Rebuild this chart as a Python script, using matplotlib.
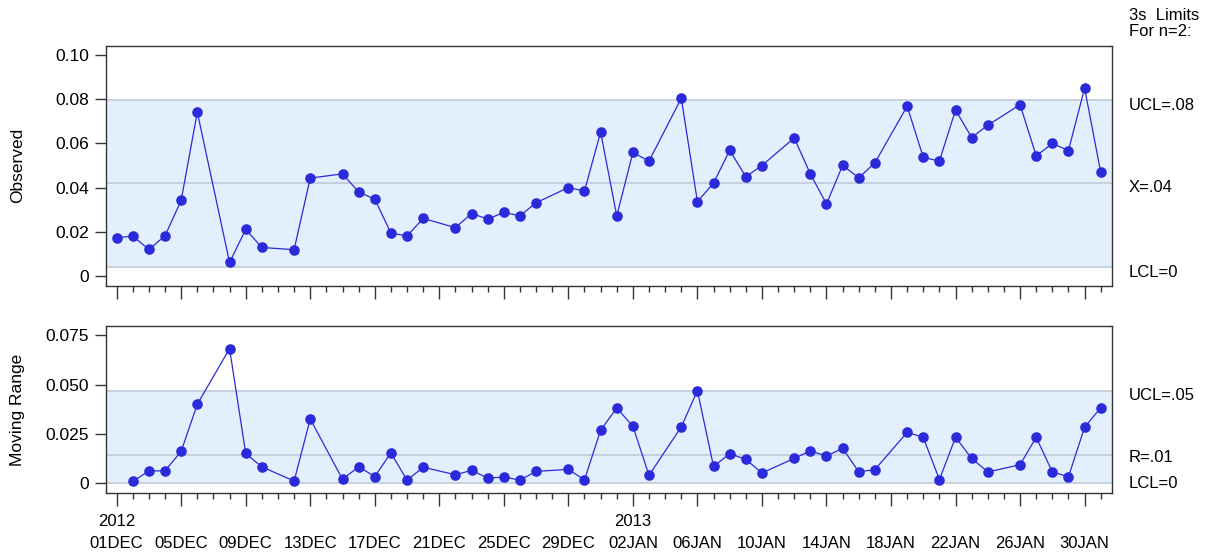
import matplotlib
matplotlib.use("Agg")
import matplotlib.pyplot as plt
import matplotlib.dates as mdates
import matplotlib.transforms as mtransforms
from matplotlib.ticker import FixedLocator, NullFormatter
from datetime import date, timedelta
import numpy as np

# ---- data -------------------------------------------------------------
obs_dates = [
    "2012-12-01", "2012-12-02", "2012-12-03", "2012-12-04", "2012-12-05", "2012-12-06",
    "2012-12-08", "2012-12-09", "2012-12-10",
    "2012-12-12", "2012-12-13",
    "2012-12-15", "2012-12-16", "2012-12-17", "2012-12-18", "2012-12-19", "2012-12-20",
    "2012-12-22", "2012-12-23", "2012-12-24", "2012-12-25", "2012-12-26", "2012-12-27",
    "2012-12-29", "2012-12-30", "2012-12-31", "2013-01-01", "2013-01-02", "2013-01-03",
    "2013-01-05", "2013-01-06", "2013-01-07", "2013-01-08", "2013-01-09", "2013-01-10",
    "2013-01-12", "2013-01-13", "2013-01-14", "2013-01-15", "2013-01-16", "2013-01-17",
    "2013-01-19", "2013-01-20", "2013-01-21", "2013-01-22", "2013-01-23", "2013-01-24",
    "2013-01-26", "2013-01-27", "2013-01-28", "2013-01-29", "2013-01-30", "2013-01-31",
]
observed = [
    0.0172, 0.0180, 0.0119, 0.0181, 0.0342, 0.0742,
    0.0060, 0.0210, 0.0128,
    0.0118, 0.0443,
    0.0462, 0.0380, 0.0347, 0.0194, 0.0180, 0.0260,
    0.0218, 0.0282, 0.0257, 0.0287, 0.0272, 0.0331,
    0.0400, 0.0384, 0.0652, 0.0271, 0.0559, 0.0520,
    0.0805, 0.0336, 0.0420, 0.0569, 0.0449, 0.0500,
    0.0625, 0.0462, 0.0325, 0.0501, 0.0444, 0.0512,
    0.0769, 0.0537, 0.0520, 0.0752, 0.0627, 0.0683,
    0.0776, 0.0544, 0.0600, 0.0568, 0.0851, 0.0469,
]

# process centre lines (n=2 moving ranges, 3-sigma limits)
x_center = 0.0419
r_center = 0.0143
x_ucl = x_center + 2.66 * r_center
x_lcl = x_center - 2.66 * r_center
r_ucl = 3.267 * r_center
r_lcl = 0.0

obs_yticks = [0.0, 0.02, 0.04, 0.06, 0.08, 0.10]
obs_yticklabels = ["0", "0.02", "0.04", "0.06", "0.08", "0.10"]
mr_yticks = [0.0, 0.025, 0.050, 0.075]
mr_yticklabels = ["0", "0.025", "0.050", "0.075"]

start_day = date(2012, 12, 1)
end_day = date(2013, 1, 31)

# ---- style --------------------------------------------------------------
plt.rcParams["font.family"] = ["Liberation Sans", "DejaVu Sans"]
plt.rcParams["font.size"] = 12

POINT = "#2A2ADA"
BAND = "#E3EFFD"
LIMIT = "#BCC6D4"
SPINE = "#333333"
TXT = 12

W, H = 1212, 558
fig = plt.figure(figsize=(W / 100, H / 100), dpi=100)


def px_axes(left, top, right, bottom):
    return fig.add_axes([left / W, 1 - bottom / H, (right - left) / W, (bottom - top) / H])


ax1 = px_axes(106, 45.7, 1111.7, 285.7)
ax2 = px_axes(106, 325.7, 1111.7, 493.3)

dates = np.array([mdates.date2num(np.datetime64(d)) for d in obs_dates])
values = np.array(observed)
mr = np.abs(np.diff(values))

base = mdates.date2num(np.datetime64(start_day))
xlim = (base - 0.66, base + 61.68)


def sas_label(v):
    s = f"{v:.2f}"
    if float(s) == 0:
        return "0"
    return s.lstrip("0")


def style_axis(ax, ylim, yticks, yticklabels):
    ax.set_xlim(*xlim)
    ax.set_ylim(*ylim)
    ax.set_yticks(yticks)
    ax.set_yticklabels(yticklabels, fontsize=12.5)
    for sp in ax.spines.values():
        sp.set_color(SPINE)
        sp.set_linewidth(1.0)
    all_days = [mdates.date2num(np.datetime64(start_day + timedelta(days=i)))
                for i in range((end_day - start_day).days + 1)]
    major = all_days[::4]
    ax.xaxis.set_major_locator(FixedLocator(major))
    ax.xaxis.set_minor_locator(FixedLocator(all_days))
    ax.tick_params(axis="x", which="major", length=9, width=1.0, color=SPINE, direction="out")
    ax.tick_params(axis="x", which="minor", length=4.5, width=1.0, color=SPINE, direction="out")
    ax.tick_params(axis="y", which="major", length=8, width=1.0, color=SPINE,
                   direction="out", pad=4)
    return major


def draw_band(ax, lcl, center, ucl):
    ax.axhspan(lcl, ucl, color=BAND, zorder=0, lw=0)
    for v in (lcl, center, ucl):
        ax.axhline(v, color=LIMIT, lw=1.1, zorder=1)


# Observed panel
draw_band(ax1, x_lcl, x_center, x_ucl)
ax1.plot(dates, values, "-o", color=POINT, lw=0.9, ms=6.6, mec=POINT, mfc=POINT, zorder=3)
major1 = style_axis(ax1, (-0.00454, 0.10436), obs_yticks, obs_yticklabels)
ax1.xaxis.set_major_formatter(NullFormatter())

# Moving range panel
draw_band(ax2, r_lcl, r_center, r_ucl)
ax2.plot(dates[1:], mr, "-o", color=POINT, lw=0.9, ms=6.6, mec=POINT, mfc=POINT, zorder=3)
major2 = style_axis(ax2, (-0.00523, 0.07988), mr_yticks, mr_yticklabels)

labels = []
seen_years = set()
for m in major2:
    d = mdates.num2date(m).date()
    day_txt = d.strftime("%d%b").upper()
    if d.year not in seen_years:
        seen_years.add(d.year)
        labels.append(f"{d.year}\n{day_txt}")
    else:
        labels.append(f"\n{day_txt}")
ax2.set_xticklabels(labels, fontsize=12, linespacing=1.55)
ax2.tick_params(axis="x", which="major", pad=6)

# axis titles
fig.text(18 / W, 1 - 165.7 / H, "Observed", rotation=90, ha="center", va="center", fontsize=12.5)
fig.text(18 / W, 1 - 409.5 / H, "Moving Range", rotation=90, ha="center", va="center", fontsize=12.5)

# limit annotations on the right
fig.text(1129 / W, 1 - 16 / H, "3s  Limits", ha="left", va="center", fontsize=TXT)
fig.text(1129 / W, 1 - 31 / H, "For n=2:", ha="left", va="center", fontsize=TXT)


def limit_text(ax, y, txt, dy_px):
    tr = mtransforms.blended_transform_factory(fig.transFigure, ax.transData)
    tr = mtransforms.offset_copy(tr, fig=fig, x=0, y=-dy_px, units="dots")
    ax.text(1129 / W, y, txt, transform=tr, ha="left", va="center", fontsize=TXT, clip_on=False)


limit_text(ax1, x_ucl, "UCL=" + sas_label(x_ucl), 6)
limit_text(ax1, x_center, "X=" + sas_label(x_center), 4)
limit_text(ax1, x_lcl, "LCL=" + sas_label(x_lcl), 5)
limit_text(ax2, r_ucl, "UCL=" + sas_label(r_ucl), 4)
limit_text(ax2, r_center, "R=" + sas_label(r_center), 3)
limit_text(ax2, r_lcl, "LCL=" + sas_label(r_lcl), 0)

fig.savefig("out.png", dpi=100)
